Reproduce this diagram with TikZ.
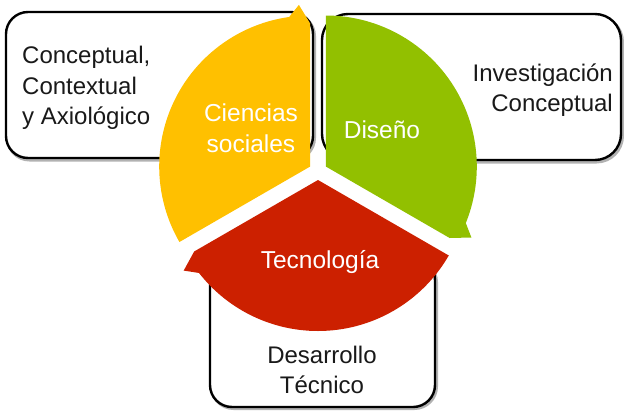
\documentclass[tikz,border=0pt]{standalone}
\usepackage{fontspec}
\setmainfont{Liberation Sans}
\definecolor{cyel}{RGB}{255,192,0}
\definecolor{cgrn}{RGB}{146,192,0}
\definecolor{cred}{RGB}{204,32,0}
\definecolor{ctxt}{RGB}{25,25,25}
\begin{document}
\begin{tikzpicture}[x=1pt,y=-1pt,
  box/.style={draw=black, line width=2.4pt, fill=white},
  boxshadow/.style={draw=black!30, line width=3pt},
  boxtext/.style={font=\fontsize{24}{30.5}\selectfont, text=ctxt, inner sep=0pt},
  innertext/.style={font=\fontsize{24.5}{30.5}\selectfont, text=white, inner sep=0pt, align=center}]
\useasboundingbox (0,0) rectangle (624,410);
% boxes (with a soft shadow)
\draw[boxshadow, rounded corners=22pt] (7.5,14) rectangle (314.5,160);
\draw[boxshadow, rounded corners=26pt] (323.5,16) rectangle (622.5,162);
\draw[boxshadow, rounded corners=22pt] (211.5,260) rectangle (436.5,408.5);
\draw[box, rounded corners=22pt] (6,12) rectangle (313,158);
\draw[box, rounded corners=26pt] (322,14) rectangle (621,160);
\draw[box, rounded corners=22pt] (210,258) rectangle (435,407);
% segmented cycle
\begin{scope}[shift={(310.2,166.5)}, yscale=-1]
  \fill[cyel] (0,0) -- (210:151) arc[start angle=210, end angle=98, radius=151]
    -- (94:162) -- (90:143) -- cycle;
\end{scope}
\begin{scope}[shift={(325.8,166.5)}, yscale=-1]
  \fill[cgrn] (0,0) -- (90:151) arc[start angle=90, end angle=-22, radius=151]
    -- (-26:162) -- (-30:143) -- cycle;
\end{scope}
\begin{scope}[shift={(318,180)}, yscale=-1]
  \fill[cred] (0,0) -- (-30:151) arc[start angle=-30, end angle=-142, radius=151]
    -- (-146:162) -- (-150:143) -- cycle;
\end{scope}
% texts
\node[boxtext, anchor=west, align=left] (t1) at (22,88) {Conceptual,\\Contextual\\y Axiológico};
\node[boxtext, anchor=east, align=right] (t2) at (613,90) {Investigación\\Conceptual};
\node[boxtext, align=center] (t3) at (322,370) {Desarrollo\\Técnico};
\node[innertext] (l1) at (251,128) {Ciencias\\sociales};
\node[innertext] (l2) at (382,130) {Diseño};
\node[innertext] (l3) at (320,262) {Tecnología};
\end{tikzpicture}
\end{document}
